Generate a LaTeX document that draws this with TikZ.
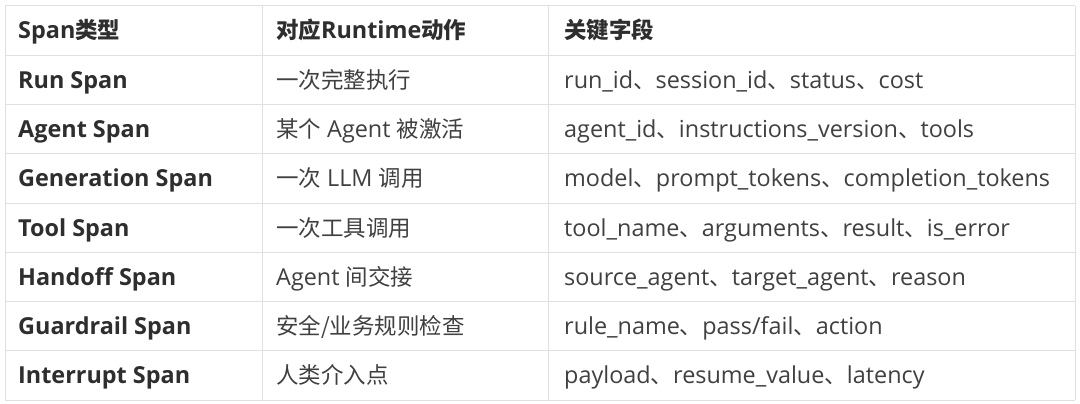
\documentclass[tikz,border=0pt]{standalone}
\usepackage{fontspec}
\setmainfont{Open Sans}
\newfontfamily\cjkf[Scale=0.96]{Noto Sans CJK SC}
\newcommand\zh[1]{{\cjkf #1}}
\begin{document}
\begin{tikzpicture}[x=1pt,y=-1pt,
  ln/.style={draw=black!12,line width=1pt},
  hd/.style={anchor=base west,text=black!82,font=\fontsize{23.4}{26}\selectfont\bfseries,inner sep=0},
  tx/.style={anchor=base west,text=black!75,font=\fontsize{23.4}{26}\selectfont,inner sep=0}]
\useasboundingbox[fill=white] (0,0) rectangle (1080,404);
\foreach \i in {0,...,8}{\draw[ln] (5,{6+\i*49.25}) -- (1075,{6+\i*49.25});}
\foreach \x in {5,262,548,1075}{\draw[ln] (\x,6) -- (\x,400);}
\foreach[count=\i from 0] \a/\b/\c in {
 Span\zh{类型}/\zh{对应}Runtime\zh{动作}/\zh{关键字段},
 Run Span/\zh{一次完整执行}/run\_id\zh{、}session\_id\zh{、}status\zh{、}cost,
 Agent Span/\zh{某个} Agent \zh{被激活}/agent\_id\zh{、}instructions\_version\zh{、}tools,
 Generation Span/\zh{一次} LLM \zh{调用}/model\zh{、}prompt\_tokens\zh{、}completion\_tokens,
 Tool Span/\zh{一次工具调用}/tool\_name\zh{、}arguments\zh{、}result\zh{、}is\_error,
 Handoff Span/Agent \zh{间交接}/source\_agent\zh{、}target\_agent\zh{、}reason,
 Guardrail Span/\zh{安全{/}业务规则检查}/rule\_name\zh{、}pass{/}fail\zh{、}action,
 Interrupt Span/\zh{人类介入点}/payload\zh{、}resume\_value\zh{、}latency}{
 \node[hd] (a\i) at (18,{39+\i*49.25}) {\a};
 \ifnum\i=0
 \node[hd] (b\i) at (276,{39+\i*49.25}) {\b};
 \node[hd] (c\i) at (564,{39+\i*49.25}) {\c};
 \else
 \node[tx] (b\i) at (276,{39+\i*49.25}) {\b};
 \node[tx] (c\i) at (564,{39+\i*49.25}) {\c};
 \fi
}
\end{tikzpicture}
\end{document}
